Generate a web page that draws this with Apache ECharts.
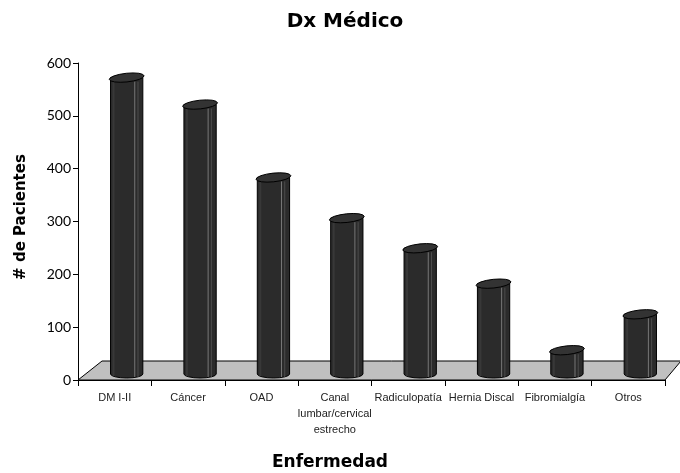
<!DOCTYPE html>
<html><head><meta charset="utf-8">
<script src="https://cdn.jsdelivr.net/npm/echarts@6/dist/echarts.min.js"></script>
<style>html,body{margin:0;padding:0;background:#fff}#c{width:680px;height:473px}</style>
</head><body><div id="c"></div>
<script>
const categories = ['DM I-II','Cáncer','OAD','Canal\nlumbar/cervical\nestrecho','Radiculopatía','Hernia Discal','Fibromialgía','Otros'];
const patients = [561, 510, 372, 295, 238, 171, 45, 113];
const yTicks = [0, 100, 200, 300, 400, 500, 600];

const chart = echarts.init(document.getElementById('c'));
const DX = 12, DY = -6, BACKX = 24, BACKY = -19;

function cylinder(params, api) {
  const c = api.coord([api.value(0), api.value(1)]);
  const b = api.coord([api.value(0), 0]);
  const bw = api.size([1, 0])[0] * 0.44;
  const rx = bw / 2, ry = 4;
  const cx = c[0] + DX, top = c[1] + DY, bot = b[1] + DY;
  const body = `M ${cx-rx} ${top} L ${cx-rx} ${bot} A ${rx} ${ry} 0 0 0 ${cx+rx} ${bot} L ${cx+rx} ${top} Z`;
  const cap = `M ${cx-rx} ${top} A ${rx} ${ry} -6 1 1 ${cx+rx} ${top} A ${rx} ${ry} -6 1 1 ${cx-rx} ${top} Z`;
  return {
    type: 'group',
    children: [
      { type: 'path', shape: { pathData: body }, style: { fill: '#2b2b2b', stroke: '#000', lineWidth: 1 } },
      { type: 'line', shape: { x1: cx - rx + 3, y1: top + ry, x2: cx - rx + 3, y2: bot + 2 }, style: { stroke: '#383838', lineWidth: 2 } },
      { type: 'line', shape: { x1: cx + rx * 0.5, y1: top + ry, x2: cx + rx * 0.5, y2: bot + ry - 1 }, style: { stroke: '#8a8a8a', lineWidth: 0.8 } },
      { type: 'line', shape: { x1: cx + rx * 0.7, y1: top + ry, x2: cx + rx * 0.7, y2: bot + ry - 1 }, style: { stroke: '#555', lineWidth: 0.8 } },
      { type: 'path', shape: { pathData: cap }, style: { fill: '#333', stroke: '#000', lineWidth: 1 } }
    ]
  };
}

function floor(params, api) {
  const cs = params.coordSys;
  const y0 = api.coord([0, 0])[1];
  const x0 = cs.x, x1 = cs.x + cs.width;
  return {
    type: 'polygon',
    shape: { points: [[x0, y0], [x0 + BACKX, y0 + BACKY], [x1 + 16, y0 + BACKY], [x1, y0]] },
    style: { fill: '#c0c0c0', stroke: '#000', lineWidth: 1 }
  };
}

chart.setOption({
  animation: false,
  backgroundColor: '#fff',
  graphic: [
    { type: 'text', x: 345, y: 22, style: { text: 'Dx Médico', font: 'bold 20px "DejaVu Sans"', fill: '#000', textAlign: 'center', textVerticalAlign: 'middle' } },
    { type: 'text', x: 330, y: 463, style: { text: 'Enfermedad', font: 'bold 17px "DejaVu Sans"', fill: '#000', textAlign: 'center', textVerticalAlign: 'middle' } },
    { type: 'text', x: 21, y: 217, rotation: Math.PI / 2, style: { text: '# de Pacientes', font: 'bold 15px "DejaVu Sans"', fill: '#000', textAlign: 'center', textVerticalAlign: 'middle' } }
  ],
  grid: { left: 78, right: 15, top: 63, bottom: 93, containLabel: false },
  xAxis: {
    type: 'category', data: categories,
    axisLine: { show: true, lineStyle: { color: '#000', width: 1 } },
    axisTick: { show: true, length: 6, lineStyle: { color: '#000' } },
    axisLabel: { interval: 0, fontFamily: 'Liberation Sans', fontSize: 11, color: '#222', margin: 10, lineHeight: 16 },
    z: 5
  },
  yAxis: {
    type: 'value', min: 0, max: 600, interval: 100,
    axisLine: { show: true, lineStyle: { color: '#000', width: 1 } },
    axisTick: { show: true, inside: false, length: 5, lineStyle: { color: '#000' } },
    axisLabel: { fontFamily: 'Lato', fontSize: 14, color: '#000', margin: 7,
      formatter: v => yTicks.includes(v) ? String(v) : '' },
    splitLine: { show: false }
  },
  series: [
    { type: 'custom', renderItem: floor, data: [[0, 0]], z: 1, silent: true },
    { type: 'custom', renderItem: cylinder, data: patients.map((v, i) => [i, v]), z: 3,
      encode: { x: 0, y: 1 } }
  ]
});
</script></body></html>
